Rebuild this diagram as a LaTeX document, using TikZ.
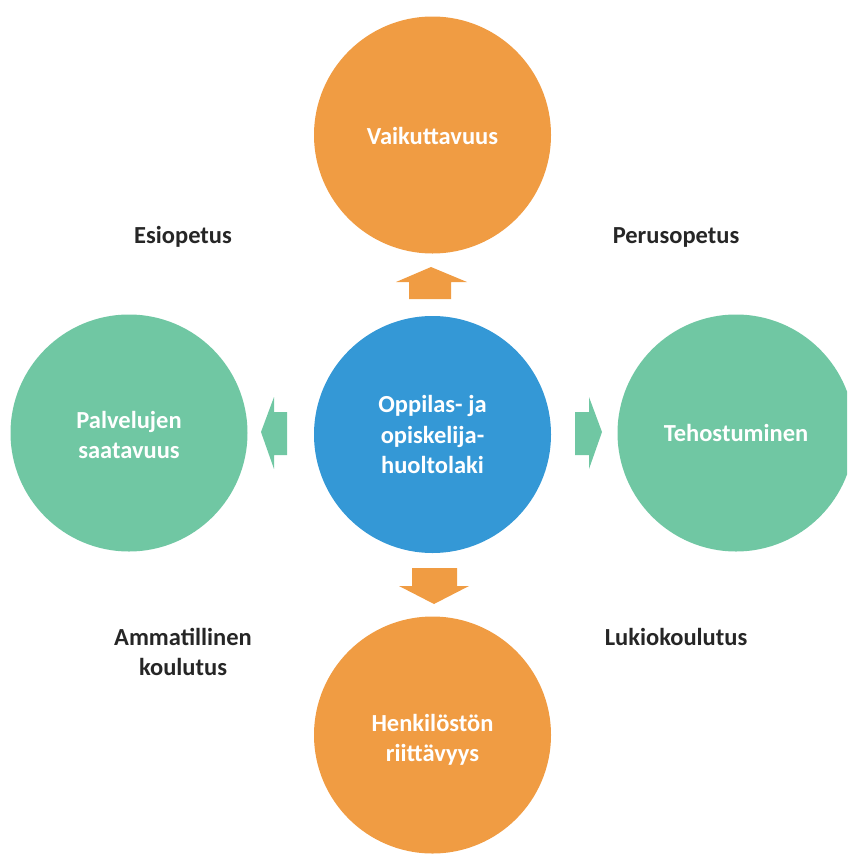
\documentclass[tikz,border=0pt]{standalone}
\usepackage{fontspec}
\setmainfont{Carlito}
\definecolor{orangec}{RGB}{240,156,67}
\definecolor{bluec}{RGB}{52,152,214}
\definecolor{greenc}{RGB}{112,199,163}
\definecolor{textc}{RGB}{38,38,38}
\begin{document}
\begin{tikzpicture}[x=1pt,y=-1pt,
  circ/.style={circle,minimum size=237pt,inner sep=0pt},
  ctext/.style={text=white,align=center,inner sep=0pt,
    font=\fontsize{24.5pt}{30.5pt}\selectfont\bfseries},
  lbl/.style={text=textc,align=center,inner sep=0pt,
    font=\fontsize{24.5pt}{30pt}\selectfont\bfseries}]
\useasboundingbox (0,0) rectangle (847,854);
\clip (0,0) rectangle (847,854);
\node[circ,fill=orangec] (top) at (432.5,135) {};
\node[circ,fill=bluec] (mid) at (432.5,434.5) {};
\node[circ,fill=greenc] (left) at (129,433) {};
\node[circ,fill=greenc] (right) at (736,433) {};
\node[circ,fill=orangec] (bot) at (432.5,735) {};
\node[ctext] (ttop) at ([yshift=-1pt]top.center) {Vaikuttavuus};
\node[ctext] (tmid) at (mid.center) {Oppilas- ja\\opiskelija-\\huoltolaki};
\node[ctext] (tleft) at ([yshift=-2pt]left.center) {Palvelujen\\saatavuus};
\node[ctext] (tright) at (right.center) {Tehostuminen};
\node[ctext] (tbot) at ([yshift=-5pt]bot.center) {Henkilöstön\\riittävyys};
% arrows
\fill[orangec] (409,299) -- (451,299) -- (451,282) -- (467,282) -- (431,267) -- (396,282) -- (409,282) -- cycle;
\fill[greenc] (287,412) -- (287,455) -- (274,455) -- (274,469) -- (261,432) -- (274,397) -- (274,412) -- cycle;
\fill[greenc] (575,412) -- (575,455) -- (589,455) -- (589,469) -- (602,432) -- (589,397) -- (589,412) -- cycle;
\fill[orangec] (412,568) -- (457,568) -- (457,586) -- (469,586) -- (434,604) -- (399,586) -- (412,586) -- cycle;
% labels
\node[lbl,anchor=base] (l1) at (183,243) {Esiopetus};
\node[lbl,anchor=base] (l2) at (676,243) {Perusopetus};
\node[lbl,anchor=base] (l3) at (183,645) {Ammatillinen};
\node[lbl,anchor=base] (l3b) at (183,675) {koulutus};
\node[lbl,anchor=base] (l4) at (676,645) {Lukiokoulutus};
\end{tikzpicture}
\end{document}
